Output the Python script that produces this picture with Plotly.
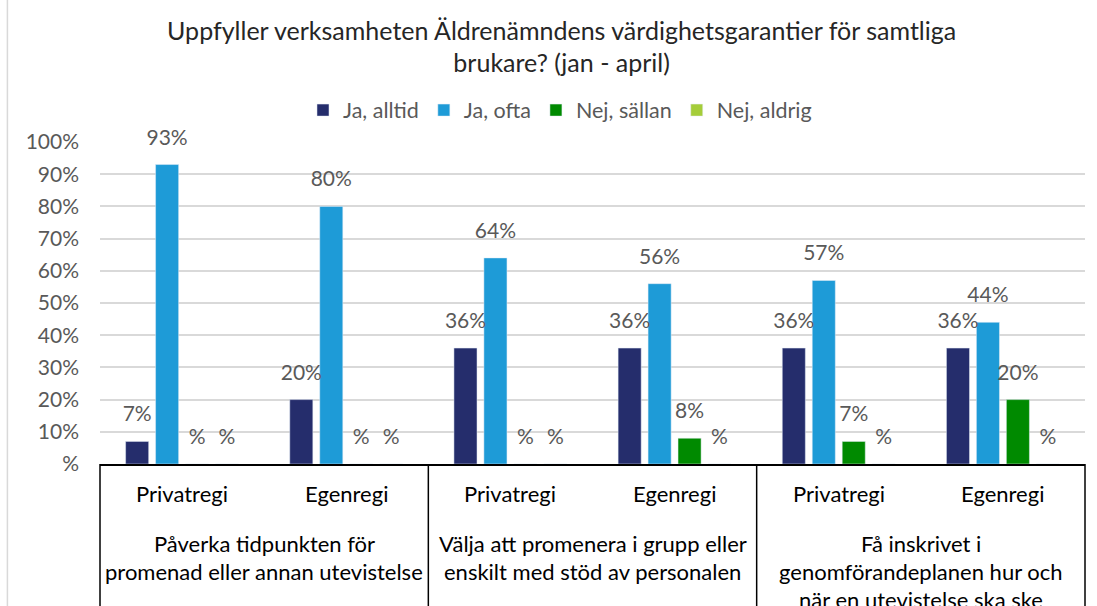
import plotly.graph_objects as go

# data
groups = [
    "Påverka tidpunkten för promenad eller annan utevistelse",
    "Välja att promenera i grupp eller enskilt med stöd av personalen",
    "Få inskrivet i genomförandeplanen hur och när en utevistelse ska ske",
]
group_lines = [
    ["Påverka tidpunkten för", "promenad eller annan utevistelse"],
    ["Välja att promenera i grupp eller", "enskilt med stöd av personalen"],
    ["Få inskrivet i", "genomförandeplanen hur och", "när en utevistelse ska ske"],
]
units = ["Privatregi", "Egenregi"]

series_names = ["Ja, alltid", "Ja, ofta", "Nej, sällan", "Nej, aldrig"]
ja_alltid = [0.07, 0.20, 0.36, 0.36, 0.36, 0.36]
ja_ofta = [0.93, 0.80, 0.64, 0.56, 0.57, 0.44]
nej_sallan = [0.0, 0.0, 0.0, 0.08, 0.07, 0.20]
nej_aldrig = [0.0, 0.0, 0.0, 0.0, 0.0, 0.0]
colors = ["#252D6C", "#1E9BD7", "#008A00", "#A5CD39"]

y_ticks = [0, 0.1, 0.2, 0.3, 0.4, 0.5, 0.6, 0.7, 0.8, 0.9, 1.0]
y_ticktext = ["%", "10%", "20%", "30%", "40%", "50%", "60%", "70%", "80%", "90%", "100%"]

FONT = "Lato, 'Open Sans', sans-serif"
GREY = "#595959"

x_groups = [g for g in groups for _ in units]
x_units = [u for _ in groups for u in units]


def pct_label(v):
    # Excel format "#%" shows zero as a bare "%"
    r = round(v * 100)
    return f"{r}%" if r else "%"


fig = go.Figure()
all_series = [ja_alltid, ja_ofta, nej_sallan, nej_aldrig]
for name, vals, col in zip(series_names, all_series, colors):
    fig.add_trace(go.Bar(
        x=[x_groups, x_units],
        y=vals,
        name=name,
        marker_color=col,
        hoverinfo="skip",
    ))

# data labels, grouped like the bars so they sit above each one
for name, vals in zip(series_names, all_series):
    fig.add_trace(go.Scatter(
        x=[x_groups, x_units],
        y=vals,
        mode="markers+text",
        marker=dict(size=22, color="rgba(0,0,0,0)"),
        text=[pct_label(v) for v in vals],
        textposition="top center",
        textfont=dict(size=21, color=GREY, family=FONT),
        cliponaxis=False,
        showlegend=False,
        hoverinfo="skip",
    ))

# category labels below the axis
n = len(x_units)
for i, u in enumerate(x_units):
    fig.add_annotation(
        x=(i + 0.5) / n, y=-0.093, xref="paper", yref="paper",
        text=u, showarrow=False, xanchor="center", yanchor="middle",
        font=dict(size=22, color="#000000", family=FONT),
    )
for gi, lines in enumerate(group_lines):
    for li, line in enumerate(lines):
        fig.add_annotation(
            x=(gi + 0.5) / len(groups), y=-0.248 - li * 0.087,
            xref="paper", yref="paper",
            text=line, showarrow=False, xanchor="center", yanchor="middle",
            font=dict(size=22, color="#000000", family=FONT),
        )

# box lines of the category area
for k in range(len(groups) + 1):
    fig.add_shape(type="line", xref="paper", yref="paper",
                  x0=k / len(groups), x1=k / len(groups), y0=0, y1=-0.6,
                  line=dict(color="#000000", width=1.5))
# outer chart border on the left
fig.add_shape(type="line", xref="paper", yref="paper",
              x0=-0.094, x1=-0.094, y0=-0.6, y1=1.6,
              line=dict(color="#D9D9D9", width=1.5))

fig.update_layout(
    title=dict(
        text="Uppfyller verksamheten Äldrenämndens värdighetsgarantier för samtliga<br>brukare? (jan - april)",
        font=dict(size=25, color="#262626", family=FONT),
        x=0.512, xanchor="center", y=0.934, yanchor="middle",
    ),
    barmode="group",
    bargap=0.27,
    bargroupgap=0.23,
    scattermode="group",
    scattergap=0.27,
    xaxis=dict(
        type="multicategory",
        showticklabels=False,
        showgrid=False,
        showline=True,
        linecolor="#000000",
        linewidth=2,
        ticks="",
        showdividers=False,
    ),
    yaxis=dict(
        range=[0, 1.0],
        tickvals=y_ticks,
        ticktext=y_ticktext,
        tickfont=dict(size=21, color=GREY, family=FONT),
        showgrid=True,
        gridcolor="#D9D9D9",
        gridwidth=1.5,
        zeroline=False,
        ticklabelstandoff=20,
    ),
    legend=dict(
        orientation="h",
        x=0.467, xanchor="center",
        y=1.099, yanchor="middle",
        font=dict(size=21.5, color=GREY, family=FONT),
        itemwidth=30,
    ),
    plot_bgcolor="white",
    paper_bgcolor="white",
    width=1097,
    height=606,
    margin=dict(l=100, r=12, t=142, b=142),
)

fig.write_html("out.html", config={"displayModeBar": False},
               post_script="document.body.style.margin='0';")
